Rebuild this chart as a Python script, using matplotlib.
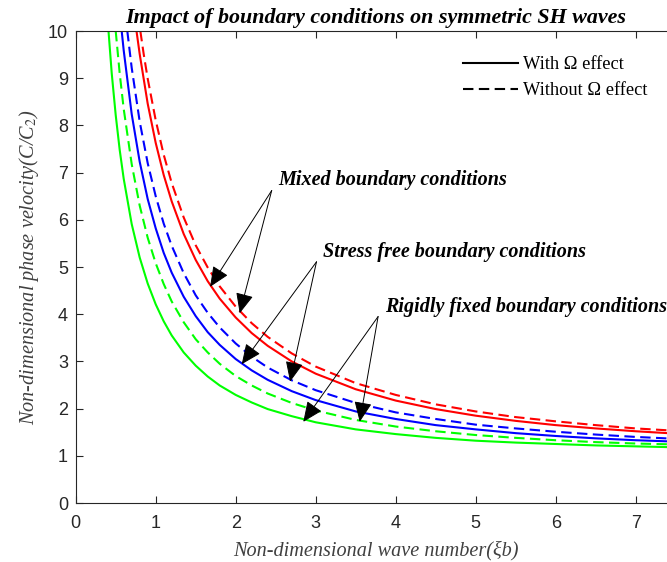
import matplotlib
matplotlib.use("Agg")
import matplotlib.pyplot as plt

# values (x = xi*b, y = C/C2)
red_w_x = [0.76, 0.8, 0.9, 1.0, 1.1, 1.2, 1.35, 1.5, 1.65, 1.8, 2.0, 2.2, 2.4, 2.7, 3.0, 3.5, 4.0, 4.5, 5.0, 5.5, 6.0, 6.5, 7.0, 7.5]
red_w_y = [10.0, 9.51, 8.46, 7.63, 6.95, 6.39, 5.70, 5.15, 4.70, 4.33, 3.93, 3.60, 3.33, 3.00, 2.74, 2.41, 2.17, 1.99, 1.85, 1.74, 1.65, 1.58, 1.52, 1.47]
red_wo_x = [0.808, 0.85, 0.9, 1.0, 1.1, 1.2, 1.35, 1.5, 1.65, 1.8, 2.0, 2.2, 2.4, 2.7, 3.0, 3.5, 4.0, 4.5, 5.0, 5.5, 6.0, 6.5, 7.0, 7.5]
red_wo_y = [10.0, 9.51, 8.99, 8.11, 7.38, 6.78, 6.05, 5.46, 4.99, 4.59, 4.16, 3.81, 3.52, 3.17, 2.89, 2.54, 2.29, 2.09, 1.94, 1.82, 1.73, 1.65, 1.58, 1.53]

blue_w_x = [0.575, 0.6, 0.7, 0.8, 0.9, 1.0, 1.1, 1.2, 1.35, 1.5, 1.65, 1.8, 2.0, 2.2, 2.4, 2.7, 3.0, 3.5, 4.0, 4.5, 5.0, 5.5, 6.0, 6.5, 7.0, 7.5]
blue_w_y = [10.0, 9.59, 8.24, 7.23, 6.44, 5.82, 5.30, 4.88, 4.37, 3.96, 3.62, 3.35, 3.05, 2.81, 2.61, 2.37, 2.18, 1.94, 1.78, 1.65, 1.56, 1.48, 1.42, 1.37, 1.33, 1.30]
blue_wo_x = [0.645, 0.7, 0.8, 0.9, 1.0, 1.1, 1.2, 1.35, 1.5, 1.65, 1.8, 2.0, 2.2, 2.4, 2.7, 3.0, 3.5, 4.0, 4.5, 5.0, 5.5, 6.0, 6.5, 7.0, 7.5]
blue_wo_y = [10.0, 9.22, 8.08, 7.20, 6.50, 5.92, 5.45, 4.87, 4.40, 4.03, 3.72, 3.38, 3.10, 2.87, 2.60, 2.39, 2.12, 1.92, 1.78, 1.66, 1.58, 1.51, 1.45, 1.40, 1.36]

green_w_x = [0.41, 0.45, 0.5, 0.55, 0.6, 0.7, 0.8, 0.9, 1.0, 1.1, 1.2, 1.35, 1.5, 1.65, 1.8, 2.0, 2.2, 2.4, 2.7, 3.0, 3.5, 4.0, 4.5, 5.0, 5.5, 6.0, 6.5, 7.0, 7.5]
green_w_y = [10.0, 9.11, 8.22, 7.48, 6.87, 5.91, 5.20, 4.65, 4.21, 3.85, 3.55, 3.19, 2.91, 2.68, 2.49, 2.29, 2.13, 1.99, 1.84, 1.71, 1.56, 1.46, 1.38, 1.32, 1.28, 1.25, 1.22, 1.20, 1.18]
green_wo_x = [0.5, 0.55, 0.6, 0.7, 0.8, 0.9, 1.0, 1.1, 1.2, 1.35, 1.5, 1.65, 1.8, 2.0, 2.2, 2.4, 2.7, 3.0, 3.5, 4.0, 4.5, 5.0, 5.5, 6.0, 6.5, 7.0, 7.5]
green_wo_y = [10.0, 9.10, 8.35, 7.18, 6.30, 5.62, 5.08, 4.64, 4.27, 3.83, 3.47, 3.19, 2.95, 2.69, 2.49, 2.32, 2.12, 1.96, 1.76, 1.62, 1.52, 1.44, 1.38, 1.33, 1.29, 1.26, 1.24]

# annotation labels: text, text position, arrow tail, arrow tips
labels = ["Mixed boundary conditions", "Stress free boundary conditions", "Rigidly fixed boundary conditions"]
label_pos = [(2.53, 6.74), (3.09, 5.22), (3.87, 4.05)]
arrow_tails = [(2.45, 6.62), (3.01, 5.11), (3.78, 3.95)]
arrow_tips = [[(1.68, 4.58), (2.05, 4.02)],
              [(2.075, 2.94), (2.68, 2.57)],
              [(2.845, 1.72), (3.55, 1.72)]]

serif = "Liberation Serif"
plt.rcParams["font.family"] = "Liberation Sans"
plt.rcParams["mathtext.fontset"] = "stix"

fig = plt.figure(figsize=(6.67, 5.62), dpi=100)
# axes run to x=7.5, a bit beyond the right edge of the picture (cropped figure)
ax = fig.add_axes([75.7 / 667, 59 / 562, 600 / 667, 472 / 562])

lw = 1.5
dash = (0, (5, 2.6))
ax.plot(red_w_x, red_w_y, color="#ff0000", lw=lw)
ax.plot(red_wo_x, red_wo_y, color="#ff0000", lw=lw, linestyle=dash)
ax.plot(blue_w_x, blue_w_y, color="#0000ff", lw=lw)
ax.plot(blue_wo_x, blue_wo_y, color="#0000ff", lw=lw, linestyle=dash)
ax.plot(green_w_x, green_w_y, color="#00ff00", lw=lw)
ax.plot(green_wo_x, green_wo_y, color="#00ff00", lw=lw, linestyle=dash)

# legend entries (black proxies)
ax.plot([], [], color="k", lw=lw, label="With \u03a9 effect")
ax.plot([], [], color="k", lw=lw, linestyle=dash, label="Without \u03a9 effect")
ax.legend(loc="upper left", bbox_to_anchor=(0.646, 0.947), frameon=False,
          prop={"family": serif, "size": 13.2}, handlelength=3.0,
          handletextpad=0.28, labelspacing=0.5, borderpad=0, borderaxespad=0)

for txt, pos, tail, tips in zip(labels, label_pos, arrow_tails, arrow_tips):
    ax.text(pos[0], pos[1], txt, fontsize=14.5, family=serif,
            weight="bold", style="italic", va="baseline", ha="left")
    for tip in tips:
        ax.annotate("", xy=tip, xytext=tail,
                    arrowprops=dict(arrowstyle="-|>,head_length=0.5,head_width=0.22",
                                    color="k", lw=0.7, mutation_scale=25,
                                    shrinkA=0, shrinkB=0))

ax.set_xlim(0, 7.5)
ax.set_ylim(0, 10)
ax.set_xticks(range(0, 8))
ax.set_yticks(range(0, 11))

ax.tick_params(direction="in", top=True, right=True, length=5, width=0.8,
               labelsize=13, colors="#262626")
ax.tick_params(axis="x", pad=9)
ax.tick_params(axis="y", pad=5.5)
for s in ax.spines.values():
    s.set_color("#262626")
    s.set_linewidth(0.8)

ax.set_title("Impact of boundary conditions on symmetric SH waves",
             family=serif, weight="bold", style="italic", fontsize=15.8, pad=6)
ax.set_xlabel("Non-dimensional wave number(\u03beb)", family=serif,
              style="italic", fontsize=14.6, color="#404040", labelpad=6)
ax.set_ylabel("Non-dimensional phase velocity(C/C$_2$)", family=serif,
              style="italic", fontsize=14.6, color="#404040", labelpad=5)

fig.savefig("out.png", dpi=100)
